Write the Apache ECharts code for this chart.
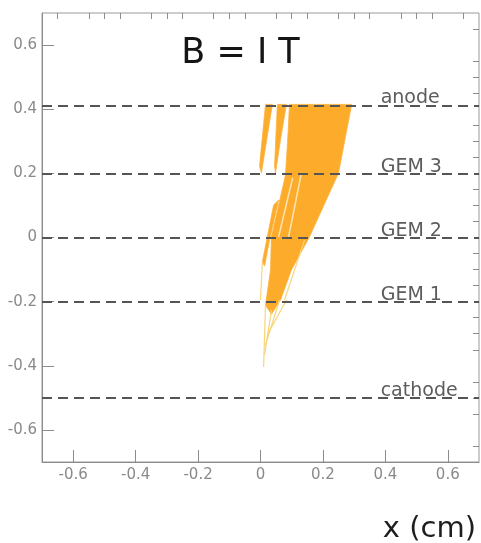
<!DOCTYPE html>
<html>
<head>
<meta charset="utf-8">
<script src="https://cdn.jsdelivr.net/npm/echarts@6/dist/echarts.min.js"></script>
<style>
  html, body { margin: 0; padding: 0; background: #fff; }
  #chart { width: 481px; height: 543px; }
</style>
</head>
<body>
<div id="chart"></div>
<script>
// tick labels (both axes go from -0.7 to 0.7 cm)
const majorTicks = [-0.6, -0.4, -0.2, 0, 0.2, 0.4, 0.6];
const minorTicks = [-0.65, -0.55, -0.5, -0.45, -0.35, -0.3, -0.25, -0.15, -0.1, -0.05,
    0.05, 0.1, 0.15, 0.25, 0.3, 0.35, 0.45, 0.5, 0.55, 0.65];

// detector planes
const levelNames = ["anode", "GEM 3", "GEM 2", "GEM 1", "cathode"];
const levelY = [0.415, 0.2, 0, -0.2, -0.5];
const labelX = 0.385;

// drift regions, polygon outlines in cm
const shardMain = [[0.093, 0.415], [0.292, 0.415], [0.25, 0.201], [0.157, 0.002], [0.099, -0.101],
    [0.064, -0.195], [0.035, -0.239], [0.016, -0.211], [0.032, -0.101], [0.035, 0.002],
    [0.08, 0.195], [0.087, 0.304]];
const shardLeft1 = [[0.016, 0.415], [0.038, 0.415], [0.022, 0.318], [0.003, 0.201], [-0.003, 0.223]];
const shardLeft2 = [[0.054, 0.415], [0.083, 0.415], [0.064, 0.304], [0.048, 0.201], [0.045, 0.223]];
const shardLow = [[0.042, 0.101], [0.058, 0.117], [0.029, -0.008], [0.013, -0.089], [0.006, -0.076]];
const shards = [shardMain, shardLeft1, shardLeft2, shardLow];

// pale streaks inside the main region
const streaks = [
    [[0.131, 0.201], [0.09, 0.002]],
    [[0.103, 0.186], [0.058, 0.002]],
];

// single thin tracks
const tracks = [
    [[0.016, -0.211], [0.01, -0.404]],
    [[0.035, -0.226], [0.013, -0.366]],
    [[0.061, -0.195], [0.016, -0.335]],
    [[0.083, -0.195], [0.022, -0.304]],
    [[0.006, -0.076], [0.0, -0.195]],
    [[0.141, -0.008], [0.077, -0.195]],
];

const chart = echarts.init(document.getElementById("chart"), null, { renderer: "canvas" });

const font = "DejaVu Sans";
const tickLabel = { color: "#8a8a8a", fontSize: 15, fontFamily: font };

const mainAxis = (isX) => ({
    type: "value",
    min: -0.7,
    max: 0.7,
    axisLine: { show: true, onZero: false, lineStyle: { color: "#8c8c8c", width: 1 } },
    axisTick: { show: true, inside: true, length: 12, customValues: majorTicks, lineStyle: { color: "#8c8c8c" } },
    axisLabel: {
        ...tickLabel,
        customValues: majorTicks,
        margin: isX ? 6 : 5,
        formatter: (v) => String(Math.round(v * 10) / 10),
    },
    splitLine: { show: false },
});
const minorAxis = () => ({
    type: "value",
    min: -0.7,
    max: 0.7,
    axisLine: { show: false, onZero: false },
    axisTick: { show: true, inside: true, length: 6, customValues: minorTicks, lineStyle: { color: "#8c8c8c" } },
    axisLabel: { show: false },
    splitLine: { show: false },
});

const lineItem = (list, color, width) => (params, api) => ({
    type: "polyline",
    shape: { points: list[params.dataIndex].map((p) => api.coord(p)) },
    style: { stroke: color, lineWidth: width, fill: null },
});

const option = {
    animation: false,
    backgroundColor: "#fff",
    title: [
        {
            text: "B = I T",
            left: "center",
            top: 31,
            textStyle: { fontFamily: font, fontSize: 35, fontWeight: "normal", color: "#151515" },
        },
        {
            text: "x (cm)",
            right: 0,
            top: 510,
            textStyle: { fontFamily: font, fontSize: 29, fontWeight: "normal", color: "#1e1e1e" },
        },
    ],
    grid: { left: 42, right: 2, top: 13, bottom: 81, show: true, borderColor: "#9a9a9a", borderWidth: 1 },
    xAxis: [mainAxis(true), minorAxis()],
    yAxis: [mainAxis(false), minorAxis()],
    series: [
        {
            type: "custom",
            name: "drift",
            clip: true,
            data: shards.map((s) => [s[0][0], s[0][1]]),
            renderItem: (params, api) => ({
                type: "polygon",
                shape: { points: shards[params.dataIndex].map((p) => api.coord(p)) },
                style: { fill: "#fdab2b", stroke: "#fdb33c", lineWidth: 0.8 },
            }),
            markLine: {
                silent: true,
                symbol: "none",
                label: { show: false },
                lineStyle: { color: "#555", type: [10, 6], width: 2 },
                data: levelY.map((y) => ({ yAxis: y })),
            },
        },
        {
            type: "custom",
            name: "streaks",
            clip: true,
            z: 3,
            data: streaks.map((t) => [t[0][0], t[0][1]]),
            renderItem: lineItem(streaks, "#fde2ad", 1.6),
        },
        {
            type: "custom",
            name: "tracks",
            clip: true,
            data: tracks.map((t) => [t[0][0], t[0][1]]),
            renderItem: lineItem(tracks, "#f7d57a", 1.2),
        },
        {
            type: "custom",
            name: "planes",
            z: 4,
            data: levelY.map((y) => [labelX, y]),
            renderItem: (params, api) => {
                const pt = api.coord([api.value(0), api.value(1)]);
                return {
                    type: "text",
                    x: pt[0],
                    y: pt[1] + 3,
                    style: {
                        text: levelNames[params.dataIndex],
                        fill: "#5c5c5c",
                        font: "19px " + font,
                        verticalAlign: "bottom",
                        align: "left",
                    },
                };
            },
        },
    ],
};

chart.setOption(option);
</script>
</body>
</html>
